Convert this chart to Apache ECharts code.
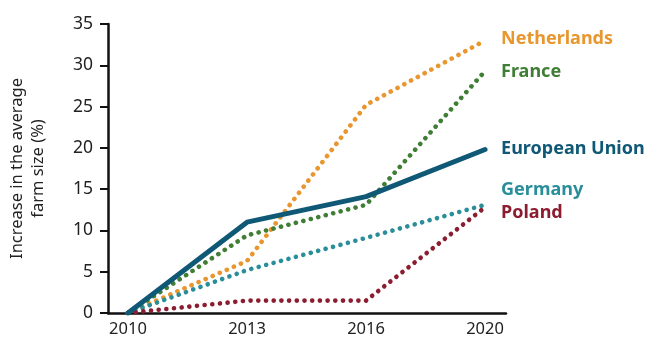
<!DOCTYPE html>
<html lang="en">
<head>
    <meta charset="UTF-8">
    <title>Farm size</title>
    <script src="https://cdn.jsdelivr.net/npm/echarts@6/dist/echarts.min.js"></script>
</head>
<body style="margin:0;background:#fff;">
<div id="main" style="width:660px;height:354px;"></div>

<script type="text/javascript">
    // data
    var years = ['2010', '2013', '2016', '2020'];
    var euValues = [0, 11, 14.1, 19.8];
    var netherlandsValues = [0, 6.3, 25.2, 33];
    var franceValues = [0, 9.4, 13.1, 29.3];
    var germanyValues = [0, 5.2, 9.1, 13.1];
    var polandValues = [0, 1.5, 1.5, 12.8];
    var yTicks = [0, 5, 10, 15, 20, 25, 30, 35];

    var myChart = echarts.init(document.getElementById('main'));

    // pair each value with its year index
    function pts(arr) {
        var out = [];
        for (var i = 0; i < arr.length; i++) {
            out.push([i, arr[i]]);
        }
        return out;
    }

    function dotted(name, values, color, dy) {
        return {
            name: name,
            type: 'line',
            data: pts(values),
            symbol: 'none',
            z: 2,
            lineStyle: {color: color, width: 4.6, type: [0.1, 7.6], cap: 'round'},
            endLabel: {
                show: true,
                formatter: name,
                color: color,
                fontSize: 18,
                fontWeight: 'bold',
                fontFamily: 'Noto Sans',
                distance: 16,
                offset: [0, dy]
            }
        };
    }

    var option = {
        animation: false,
        grid: {left: 108, right: 154, top: 24, bottom: 41, outerBoundsMode: 'none', containLabel: false},
        xAxis: {
            type: 'value',
            min: -0.168,
            max: 3.176,
            splitLine: {show: false},
            axisLine: {onZero: false, lineStyle: {color: '#111', width: 2.5}},
            axisTick: {show: false},
            axisLabel: {
                customValues: [0, 1, 2, 3],
                formatter: function (v) { return years[Math.round(v)]; },
                color: '#222',
                fontSize: 16.5,
                fontFamily: 'Noto Sans',
                margin: 8
            }
        },
        yAxis: {
            type: 'value',
            min: yTicks[0],
            max: yTicks[yTicks.length - 1],
            interval: 5,
            name: 'Increase in the average\nfarm size (%)',
            nameLocation: 'middle',
            nameGap: 59,
            nameTextStyle: {color: '#222', fontSize: 16.5, fontFamily: 'Noto Sans', lineHeight: 21},
            splitLine: {show: false},
            axisLine: {show: true, onZero: false, lineStyle: {color: '#111', width: 2.5}},
            axisTick: {show: true, length: 8, lineStyle: {color: '#111', width: 2}},
            axisLabel: {color: '#222', fontSize: 17.5, fontFamily: 'Noto Sans', margin: 15}
        },
        series: [
            dotted('Netherlands', netherlandsValues, '#e8962e', -2),
            dotted('France', franceValues, '#3f7e34', 1),
            dotted('Germany', germanyValues, '#2a8e9a', -15),
            dotted('Poland', polandValues, '#8c1d31', 6),
            {
                name: 'European Union',
                type: 'line',
                data: pts(euValues),
                symbol: 'none',
                z: 3,
                lineStyle: {color: '#0f5876', width: 5, cap: 'round', join: 'round'},
                endLabel: {
                    show: true,
                    formatter: 'European Union',
                    color: '#0f5876',
                    fontSize: 18,
                    fontWeight: 'bold',
                    fontFamily: 'Noto Sans',
                    distance: 16,
                    offset: [0, -1]
                }
            }
        ]
    };

    myChart.setOption(option);
</script>
</body>
</html>
